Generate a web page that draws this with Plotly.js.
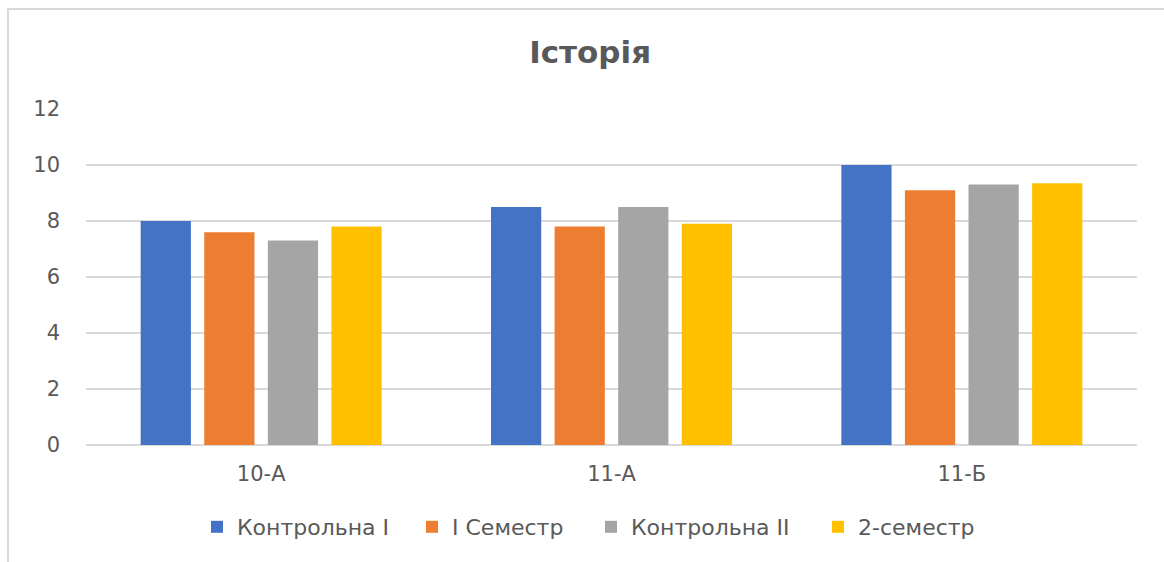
<!DOCTYPE html>
<html>
<head>
<meta charset="utf-8">
<script src="https://cdn.plot.ly/plotly-3.0.1.min.js"></script>
<style>
  html, body { margin: 0; padding: 0; background: #fff; overflow: hidden; }
  #frame { position: absolute; left: 7px; top: 8px; width: 1300px; height: 700px; border: 2px solid #d9d9d9; box-sizing: border-box; }
  #chart { position: absolute; left: 0; top: 0; width: 1164px; height: 562px; }
</style>
</head>
<body>
<div id="frame"></div>
<div id="chart"></div>
<script>
const categories = ["10-А", "11-А", "11-Б"];
const seriesNames = ["Контрольна I", "I Семестр", "Контрольна II", "2-семестр"];
const kontrolna1 = [8.0, 8.5, 10.0];
const semestr1 = [7.6, 7.8, 9.1];
const kontrolna2 = [7.3, 8.5, 9.3];
const semestr2 = [7.8, 7.9, 9.35];
const colors = ["#4472c4", "#ed7d31", "#a5a5a5", "#ffc000"];
const values = [kontrolna1, semestr1, kontrolna2, semestr2];

const font = "'DejaVu Sans', 'Open Sans', sans-serif";
const legendIds = ["legend", "legend2", "legend3", "legend4"];
const legendLeft = [197, 412, 591, 818];

const traces = values.map((v, i) => ({
  type: "bar",
  name: seriesNames[i],
  x: categories,
  y: v,
  marker: { color: colors[i] },
  legend: legendIds[i],
  hoverinfo: "x+y+name"
}));

const layout = {
  width: 1164,
  height: 562,
  paper_bgcolor: "rgba(0,0,0,0)",
  plot_bgcolor: "rgba(0,0,0,0)",
  margin: { l: 86, r: 27, t: 109, b: 117 },
  barmode: "group",
  bargap: 0.274,
  bargroupgap: 0.21,
  title: {
    text: "<b>Історія</b>",
    font: { family: font, size: 31, color: "#595959" },
    x: 0.507, xanchor: "center",
    y: 0.9075, yanchor: "middle"
  },
  xaxis: {
    tickfont: { family: font, size: 21, color: "#595959" },
    showgrid: false,
    showline: false,
    ticks: "",
    ticklen: 0,
    ticklabelstandoff: 14,
    automargin: false
  },
  yaxis: {
    range: [0, 12],
    dtick: 2,
    tick0: 0,
    tickfont: { family: font, size: 21, color: "#595959" },
    showgrid: true,
    gridcolor: "#d9d9d9",
    gridwidth: 1.5,
    zeroline: true,
    zerolinecolor: "#d9d9d9",
    zerolinewidth: 1.5,
    showline: false,
    ticks: "",
    ticklabelstandoff: 25,
    automargin: false
  },
  showlegend: true
};

legendIds.forEach((id, i) => {
  layout[id] = {
    orientation: "h",
    xref: "container", yref: "container",
    x: legendLeft[i] / 1164, xanchor: "left",
    y: 1 - 527 / 562, yanchor: "middle",
    font: { family: font, size: 22, color: "#595959" },
    itemwidth: 30,
    bgcolor: "rgba(0,0,0,0)"
  };
});

Plotly.newPlot("chart", traces, layout, { displayModeBar: false, staticPlot: true });
</script>
</body>
</html>
